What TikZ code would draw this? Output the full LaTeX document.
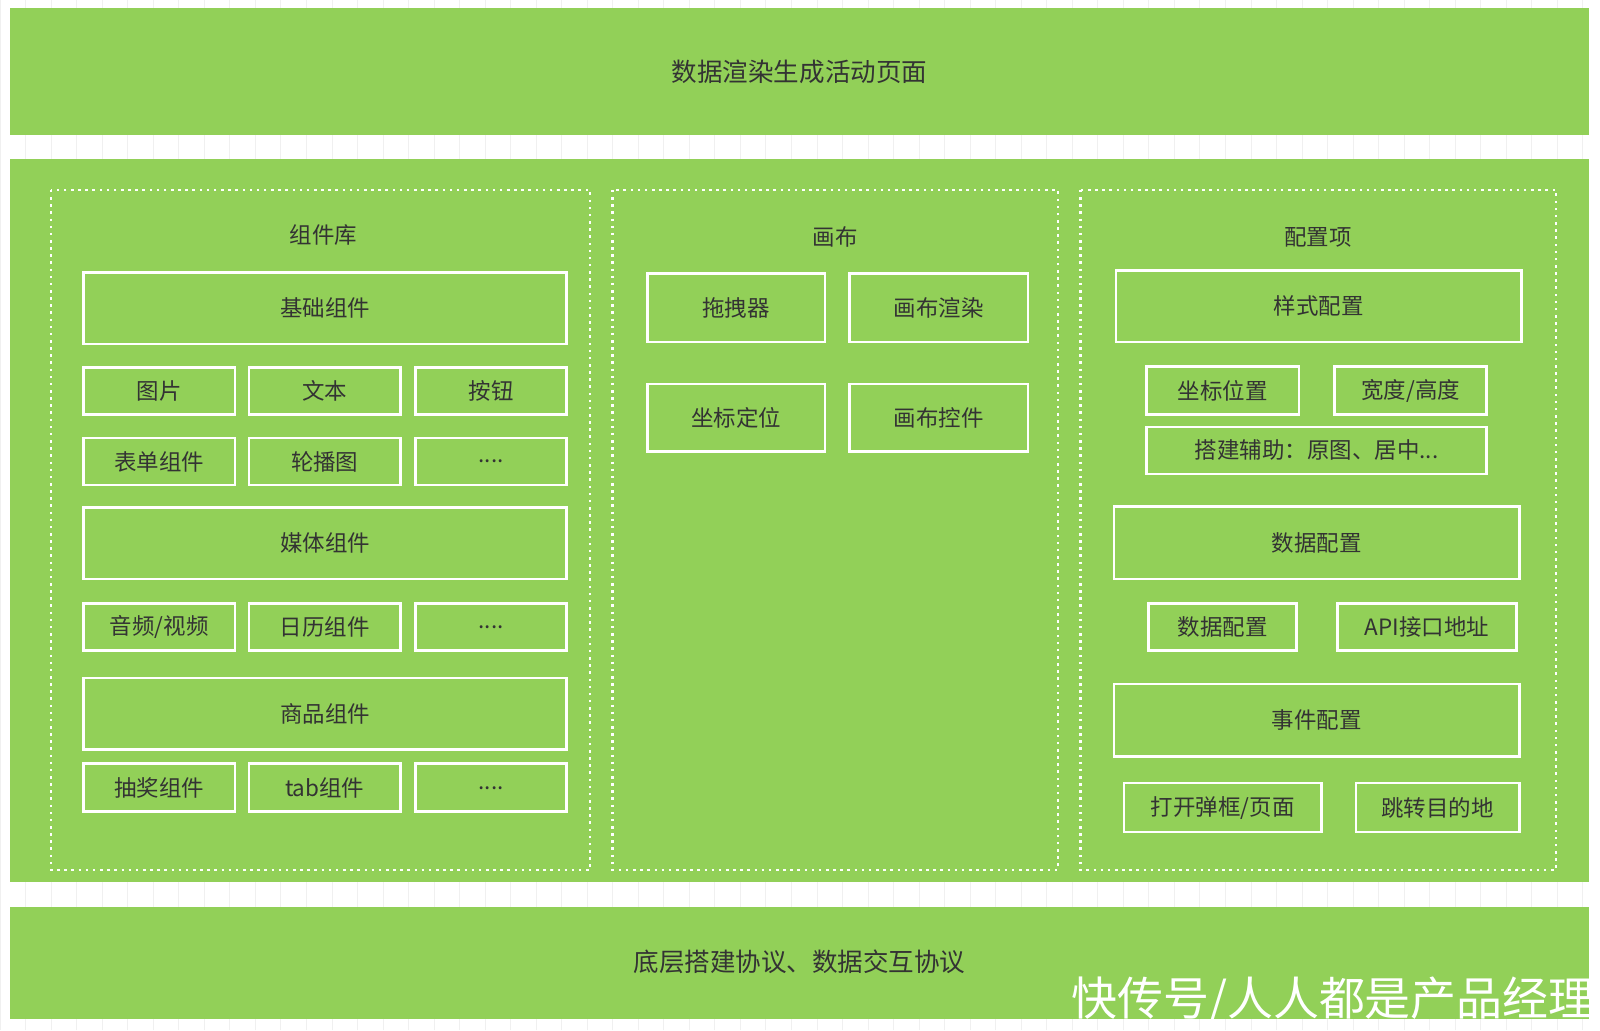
\documentclass[tikz,border=0pt]{standalone}
\usepackage{fontspec}
\setmainfont{Noto Sans CJK SC}
\definecolor{gr}{RGB}{146,208,88}
\definecolor{tx}{RGB}{51,51,51}
\tikzset{
 bar/.style={fill=gr,draw=none},
 wbox/.style={draw=white,line width=2.5pt},
 dbox/.style={draw=white,line width=2.5pt,dash pattern=on 2.5pt off 4.5pt},
 lbl/.style={text=tx,font=\fontsize{22}{25}\selectfont},
 big/.style={text=tx,font=\fontsize{25}{28}\selectfont},
}
\newcommand{\bx}[5]{\draw[wbox] (#1,#2) rectangle (#3,#4); \node[lbl] (n#1x#2) at ({(#1+#3)/2},{(#2+#4)/2}) {#5};}
\begin{document}
\begin{tikzpicture}[x=1pt,y=-1pt]
\useasboundingbox (0,0) rectangle (1567,1009);
\fill[white] (0,0) rectangle (1567,1009);
\draw[black!6,line width=0.6pt,step=25] (0,0) grid (1567,1009);
\fill[bar] (10,8) rectangle (1556,132);
\node[big] (top) at (783,70) {数据渲染生成活动页面};
\fill[bar] (10,156) rectangle (1556,864);
\fill[bar] (10,888) rectangle (1556,998);
\node[big] (bot) at (783,942) {底层搭建协议、数据交互协议};
\draw[dbox] (50,186) rectangle (578,852);
\draw[dbox] (600,186) rectangle (1036,852);
\draw[dbox] (1058,186) rectangle (1524,852);
\node[lbl] (t1) at (317,230) {组件库};
\node[lbl] (t2) at (818,232) {画布};
\node[lbl] (t3) at (1291,232) {配置项};
\bx{82}{267}{555}{337}{基础组件}
\bx{82}{360}{230}{406}{图片}
\bx{244}{360}{392}{406}{文本}
\bx{407}{360}{555}{406}{按钮}
\bx{82}{429}{230}{475}{表单组件}
\bx{244}{429}{392}{475}{轮播图}
\bx{407}{429}{555}{475}{....}
\bx{82}{497}{555}{567}{媒体组件}
\bx{82}{591}{230}{637}{音频/视频}
\bx{244}{591}{392}{637}{日历组件}
\bx{407}{591}{555}{637}{....}
\bx{82}{664}{555}{734}{商品组件}
\bx{82}{748}{230}{795}{抽奖组件}
\bx{244}{748}{392}{795}{tab组件}
\bx{407}{748}{555}{795}{....}
\bx{634}{268}{808}{335}{拖拽器}
\bx{832}{268}{1007}{335}{画布渲染}
\bx{634}{376}{808}{442}{坐标定位}
\bx{832}{376}{1007}{442}{画布控件}
\bx{1093}{265}{1490}{335}{样式配置}
\bx{1123}{359}{1272}{406}{坐标位置}
\bx{1307}{359}{1456}{406}{宽度/高度}
\bx{1123}{418}{1456}{464}{搭建辅助：原图、居中...}
\bx{1091}{496}{1488}{567}{数据配置}
\bx{1125}{591}{1270}{637}{数据配置}
\bx{1310}{591}{1485}{637}{API接口地址}
\bx{1091}{670}{1488}{741}{事件配置}
\bx{1101}{767}{1294}{815}{打开弹框/页面}
\bx{1328}{767}{1488}{815}{跳转目的地}
\node[text=white,font=\fontsize{45}{50}\selectfont,anchor=east,inner sep=0pt] (wm) at (1562,980) {快传号/人人都是产品经理};
\end{tikzpicture}
\end{document}
